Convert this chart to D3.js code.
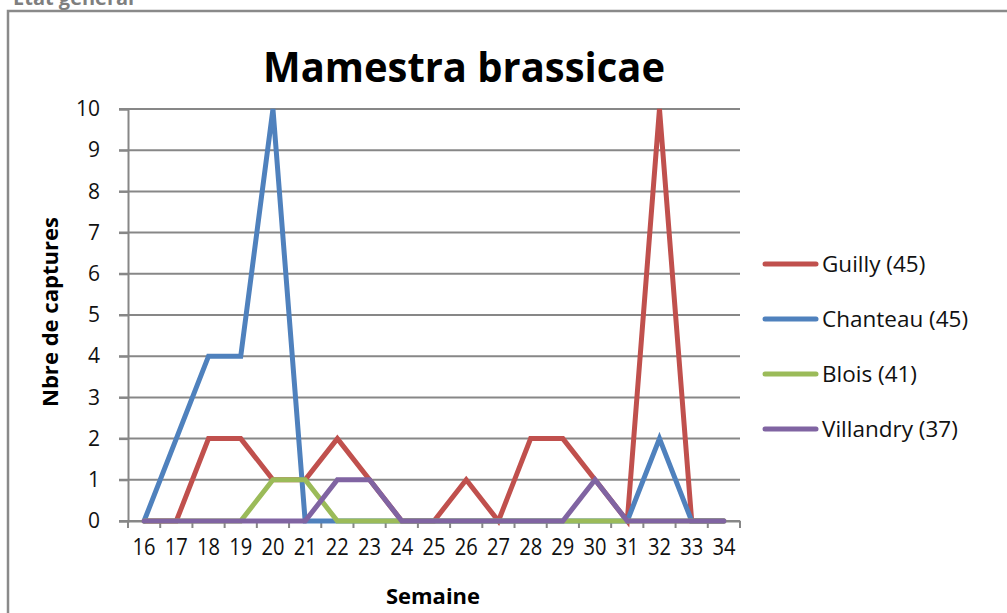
<!DOCTYPE html>
<html><head><meta charset="utf-8">
<script src="https://cdn.jsdelivr.net/npm/d3@7"></script>
<style>
html,body{margin:0;padding:0;background:#fff;}
svg{display:block;font-family:"Open Sans","Noto Sans",sans-serif;}
</style></head>
<body><svg id="c" width="1007" height="613"></svg>
<script>
const weeks = [16,17,18,19,20,21,22,23,24,25,26,27,28,29,30,31,32,33,34];
const guilly    = [0,0,2,2,1,1,2,1,0,0,1,0,2,2,1,0,10,0,0];
const chanteau  = [0,2,4,4,10,0,0,0,0,0,0,0,0,0,0,0,2,0,0];
const blois     = [0,0,0,0,1,1,0,0,0,0,0,0,0,0,0,0,0,0,0];
const villandry = [0,0,0,0,0,0,1,1,0,0,0,0,0,0,1,0,0,0,0];
const seriesNames = ["Guilly (45)","Chanteau (45)","Blois (41)","Villandry (37)"];
const seriesValues = [guilly, chanteau, blois, villandry];
const colors = ["#C0504D","#4F81BD","#9BBB59","#8064A2"];
const yTicks = [0,1,2,3,4,5,6,7,8,9,10];

const svg = d3.select("#c");
const grid = "#878787";

// outer frame (cropped at the window edges, as in the reference)
svg.append("text").attr("x",13).attr("y",5).attr("font-size",20).attr("font-weight","bold")
  .attr("fill","#7f7f7f").text("Etat général");
svg.append("path").attr("d","M8,1007 L8,11 L1010,11").attr("fill","none").attr("stroke","#8a8a8a").attr("stroke-width",2.5);

const x = d3.scaleBand().domain(weeks).range([128,740]);
const y = d3.scaleLinear().domain([0,10]).range([521,109]);

// gridlines
svg.append("g").selectAll("line").data(yTicks).join("line")
  .attr("x1",119).attr("x2",740).attr("y1",d=>y(d)).attr("y2",d=>y(d))
  .attr("stroke",grid).attr("stroke-width",2);

// y axis
const ya = svg.append("g").attr("transform","translate(128,0)")
  .call(d3.axisLeft(y).tickValues(yTicks).tickSize(9).tickPadding(19).tickFormat(d3.format("d")));
ya.select(".domain").attr("stroke",grid).attr("stroke-width",2);
ya.selectAll(".tick line").attr("stroke",grid).attr("stroke-width",2);
ya.selectAll(".tick text").attr("font-size",21).attr("fill","#111").attr("font-family","Open Sans");

// x axis
const xa = svg.append("g").attr("transform","translate(0,521)")
  .call(d3.axisBottom(x).tickSize(0).tickPadding(18));
xa.select(".domain").attr("stroke",grid).attr("stroke-width",2);
xa.selectAll(".tick text").attr("font-size",23).attr("fill","#111").attr("font-family","Open Sans")
  .attr("textLength",23).attr("lengthAdjust","spacingAndGlyphs");
const bounds = weeks.map(w=>x(w)).concat([x(weeks[weeks.length-1])+x.bandwidth()]);
svg.append("g").selectAll("line").data(bounds).join("line")
  .attr("x1",d=>d).attr("x2",d=>d).attr("y1",521).attr("y2",528)
  .attr("stroke",grid).attr("stroke-width",2);

// lines
const line = d3.line().defined(d=>d.v!=null).x(d=>x(d.w)+x.bandwidth()/2).y(d=>y(d.v));
seriesValues.forEach((vals,i)=>{
  svg.append("path").datum(weeks.map((w,j)=>({w:w,v:vals[j]})))
    .attr("d",line).attr("fill","none").attr("stroke",colors[i]).attr("stroke-width",5)
    .attr("stroke-linecap","round").attr("stroke-linejoin","miter");
});

// title
svg.append("text").attr("x",464).attr("y",82).attr("text-anchor","middle")
  .attr("font-size",41).attr("font-weight","bold").attr("fill","#000")
  .attr("textLength",402).attr("lengthAdjust","spacingAndGlyphs").text("Mamestra brassicae");

// axis titles
svg.append("text").attr("transform","translate(58,312) rotate(-90)").attr("text-anchor","middle")
  .attr("font-size",21).attr("font-weight","bold").attr("fill","#000")
  .attr("textLength",190).attr("lengthAdjust","spacingAndGlyphs").text("Nbre de captures");
svg.append("text").attr("x",433).attr("y",604).attr("text-anchor","middle")
  .attr("font-size",21).attr("font-weight","bold").attr("fill","#000")
  .attr("textLength",94).attr("lengthAdjust","spacingAndGlyphs").text("Semaine");

// legend
const legY = [264,319,374,429];
const lg = svg.append("g").selectAll("g").data(seriesNames).join("g")
  .attr("transform",(d,i)=>`translate(0,${legY[i]})`);
lg.append("line").attr("x1",765).attr("x2",816).attr("y1",0).attr("y2",0)
  .attr("stroke",(d,i)=>colors[i]).attr("stroke-width",5).attr("stroke-linecap","round");
lg.append("text").attr("x",822).attr("y",8).attr("font-size",22.5).attr("fill","#111").text(d=>d);
</script></body></html>
